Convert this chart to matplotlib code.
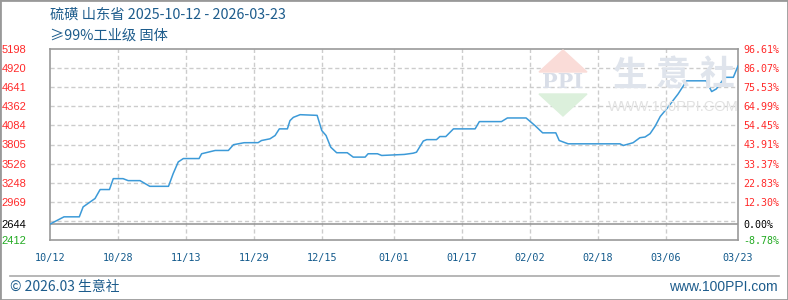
import matplotlib
matplotlib.use('Agg')
import matplotlib.pyplot as plt
from matplotlib.patches import Polygon, Rectangle
from matplotlib.lines import Line2D
import pandas as pd

plt.rcParams['font.family'] = ['Noto Sans CJK SC', 'DejaVu Sans']

# price of sulphur, Shandong (day offset from 2025-10-12, yuan/t)
days = [0, 3.3, 6.9, 7.8, 9.0, 10.6, 11.8, 14.0, 14.9, 17.2, 18.4, 21.2, 23.5, 27.9,
        29.0, 30.2, 31.4, 35.1, 35.7, 38.9, 42.0, 43.2, 45.7, 49.0, 49.8, 51.8, 53.0,
        54.0, 55.9, 56.5, 57.3, 58.9, 62.9, 64.0, 65.0, 66.1, 67.5, 70.0, 71.4, 74.2,
        74.9, 77.1, 78.1, 83.4, 85.5, 86.3, 87.9, 88.7, 91.0, 91.8, 93.2, 95.0, 100.1,
        101.1, 106.3, 107.7, 112.1, 114.2, 116.0, 119.1, 119.9, 122.0, 134.2, 135.0,
        137.3, 138.9, 140.1, 141.3, 142.5, 143.7, 145.2, 146.4, 147.9, 149.9, 154.5,
        155.8, 156.9, 158.9, 160.9, 162]
prices = [2644, 2750, 2750, 2895, 2947, 3017, 3148, 3148, 3307, 3307, 3278, 3278, 3195, 3195,
          3380, 3551, 3600, 3600, 3670, 3718, 3718, 3802, 3831, 3832, 3863, 3888, 3936,
          4033, 4033, 4153, 4201, 4240, 4230, 4008, 3936, 3766, 3685, 3685, 3621, 3621,
          3670, 3670, 3645, 3660, 3678, 3693, 3856, 3876, 3876, 3921, 3921, 4033, 4033,
          4139, 4139, 4192, 4192, 4081, 3975, 3975, 3863, 3815, 3815, 3791,
          3831, 3904, 3914, 3963, 4073, 4214, 4325, 4422, 4543, 4734, 4734,
          4577, 4616, 4785, 4785, 4950]

start_date = '2025-10-12'
x_labels = ['10/12', '10/28', '11/13', '11/29', '12/15', '01/01', '01/17', '02/02', '02/18', '03/06', '03/23']
x_years = [2025, 2025, 2025, 2025, 2025, 2026, 2026, 2026, 2026, 2026, 2026]

y_ticks = [2412, 2644, 2969, 3248, 3526, 3805, 4084, 4362, 4641, 4920, 5198]
y_labels = ['2412', '2644', '2969', '3248', '3526', '3805', '4084', '4362', '4641', '4920', '5198']
pct_labels = ['-8.78%', '0.00%', '12.30%', '22.83%', '33.37%', '43.91%', '54.45%', '64.99%', '75.53%', '86.07%', '96.61%']
grid_levels = [2691, 2969, 3248, 3526, 3805, 4084, 4362, 4641, 4920]
base_price = 2644

title1 = '硫磺 山东省 2025-10-12 - 2026-03-23'
title2 = '≥99%工业级 固体'

W, H = 788, 300
fig = plt.figure(figsize=(W / 100, H / 100), dpi=100)
fig.patch.set_facecolor('white')

def fx(x):
    return x / W

def fy(y):
    return 1 - y / H

ax = fig.add_axes([fx(50), fy(240), fx(738) - fx(50), fy(49) - fy(240)])
ax.patch.set_visible(False)

# watermark
fig.patches.append(Polygon([[fx(563), fy(50)], [fx(539), fy(72)], [fx(587), fy(72)]],
                           closed=True, transform=fig.transFigure, color='#fadcd8', zorder=0))
fig.patches.append(Polygon([[fx(539), fy(94)], [fx(587), fy(94)], [fx(563), fy(116)]],
                           closed=True, transform=fig.transFigure, color='#dcf0dc', zorder=0))
fig.text(fx(563), fy(82), 'PPI', ha='center', va='center', fontsize=15, fontweight='bold',
         family='DejaVu Serif', color='#d9dee8', zorder=0)
for cx, ch in zip([630, 673, 717], '生意社'):
    fig.text(fx(cx), fy(75), ch, ha='center', va='center', fontsize=25, fontweight='bold',
             color='#dfe4ec', zorder=0)
fig.text(fx(673), fy(107), 'WWW.100PPI.COM', ha='center', va='center', fontsize=10.5,
         family='Liberation Sans', color='#e2e2e2', zorder=0)

tick_days = [(pd.Timestamp(f'{y}-{l[:2]}-{l[3:]}') - pd.Timestamp(start_date)).days
             for l, y in zip(x_labels, x_years)]

for lv in grid_levels:
    ax.axhline(lv, color='#cccccc', lw=1, ls=(0, (3, 2)), zorder=1)
for d in tick_days[1:-1]:
    ax.axvline(d, color='#cccccc', lw=1, ls=(0, (3, 2)), zorder=1)
ax.axhline(base_price, color='#999999', lw=1.2, zorder=2)

ax.plot(days, prices, color='#3c9ad8', lw=1.1, zorder=3)

ax.set_xlim(tick_days[0], tick_days[-1])
ax.set_ylim(y_ticks[0], y_ticks[-1])
for s in ax.spines.values():
    s.set_color('#999999')
    s.set_linewidth(1.2)

def tick_color(v):
    if v > base_price:
        return '#ff2a2a'
    if v < base_price:
        return '#22aa22'
    return 'black'

ax.set_yticks(y_ticks)
ax.set_yticklabels(y_labels, family='Liberation Sans', fontsize=8)
ax.tick_params(axis='y', length=0, pad=17)
for lab, v in zip(ax.get_yticklabels(), y_ticks):
    lab.set_color(tick_color(v))

ax.set_xticks(tick_days)
ax.set_xticklabels(x_labels, family='DejaVu Sans Mono', fontsize=7.3, color='#135a8c')
ax.tick_params(axis='x', length=0, pad=9)

ax2 = ax.twinx()
ax2.set_ylim(ax.get_ylim())
ax2.set_yticks(y_ticks)
ax2.set_yticklabels(pct_labels, family='DejaVu Sans Mono', fontsize=7.2)
ax2.tick_params(axis='y', length=0, pad=4)
for lab, v in zip(ax2.get_yticklabels(), y_ticks):
    lab.set_color(tick_color(v))
for s in ax2.spines.values():
    s.set_visible(False)

fig.text(fx(50), fy(15), title1, ha='left', va='center', fontsize=10.3, color='#1d5c8c')
fig.text(fx(50), fy(36), title2, ha='left', va='center', fontsize=10.3, color='#1d5c8c')

fig.lines.append(Line2D([fx(10), fx(779)], [fy(275.5), fy(275.5)], transform=fig.transFigure,
                        color='#aaaaaa', lw=1.2))
fig.text(fx(10), fy(287), '© 2026.03 生意社', ha='left', va='center', fontsize=10, color='#1d5c8c')
fig.text(fx(778), fy(287), 'www.100PPI.com', ha='right', va='center', fontsize=10,
         family='Liberation Sans', color='#1d5c8c')

fig.patches.append(Rectangle((0, 0), 1, 1, transform=fig.transFigure, fill=False,
                             edgecolor='#999999', lw=2))

fig.savefig('out.png', dpi=100, facecolor='white')
